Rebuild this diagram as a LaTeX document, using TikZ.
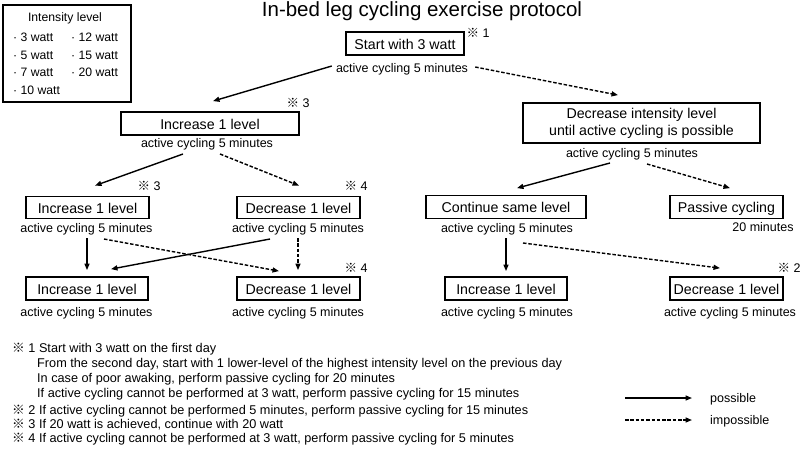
\documentclass[tikz,border=0pt]{standalone}
\usepackage{fontspec}
\setmainfont{Liberation Sans}
\newfontfamily\cjk{Noto Sans CJK JP}
\usetikzlibrary{arrows.meta,calc}
\newcommand\refm{{\cjk ※}}
\newcommand\szbox{\fontsize{14.2}{17}\selectfont}
\newcommand\szsub{\fontsize{12.5}{15}\selectfont}
\newcommand\szfoot{\fontsize{12.7}{15}\selectfont}
\newcommand\sztitle{\fontsize{20.5}{24}\selectfont}
\newcommand\szint{\fontsize{12.2}{15}\selectfont}
\begin{document}
\begin{tikzpicture}[x=1pt,y=-1pt,
  bx/.style={draw, line width=1.8pt, inner sep=0pt, font=\szbox, text height=11.4pt, text depth=0pt},
  bxtwo/.style={draw, line width=1.8pt, inner sep=0pt, font=\szbox, align=center},
  sub/.style={inner sep=0pt, anchor=base, font=\szsub},
  rn/.style={inner sep=0pt, anchor=base, font=\szsub},
  foot/.style={inner sep=0pt, anchor=base west, font=\szfoot},
  intitem/.style={inner sep=0pt, anchor=base west, font=\szint},
  arrok/.style={line width=1.4pt, -{Triangle[length=6.5pt,width=5pt]}},
  arrno/.style={arrok, dash pattern=on 3.5pt off 1.8pt},
]
\path[fill=white] (0,0) rectangle (800,453);
\useasboundingbox (0,0) rectangle (800,453);

% title
\node[font=\sztitle, inner sep=0pt, anchor=base] (title) at (422,16.7) {In-bed leg cycling exercise protocol};

% intensity box
\node[draw, line width=1.8pt, minimum width=128pt, minimum height=97pt, inner sep=0pt] (ibox) at (67,53.5) {};
\node[font=\szint, inner sep=0pt, anchor=base] (ititle) at (65,21.7) {Intensity level};
\node[intitem] (i3) at (13,41.5) {· 3 watt};
\node[intitem] (i5) at (13,59) {· 5 watt};
\node[intitem] (i7) at (13,76.5) {· 7 watt};
\node[intitem] (i10) at (13,94) {· 10 watt};
\node[intitem] (i12) at (71,41.5) {· 12 watt};
\node[intitem] (i15) at (71,59) {· 15 watt};
\node[intitem] (i20) at (71,76.5) {· 20 watt};

% boxes
\node[bx, minimum width=118pt, minimum height=23pt] (start) at (405,43.5) {Start with 3 watt};
\node[bx, minimum width=178pt, minimum height=23pt] (inc1) at (210,123.5) {Increase 1 level};
\node[bxtwo, minimum width=237pt, minimum height=40pt] (decI) at (641.5,123) {Decrease intensity level\\until active cycling is possible};
\node[bx, minimum width=123pt, minimum height=22pt] (inc2) at (87.5,207.5) {Increase 1 level};
\node[bx, minimum width=123pt, minimum height=22pt] (dec2) at (298.5,207.5) {Decrease 1 level};
\node[bx, minimum width=160pt, minimum height=23pt] (cont) at (506,207) {Continue same level};
\node[bx, minimum width=113pt, minimum height=23pt] (pas) at (726.5,207) {Passive cycling};
\node[bx, minimum width=122pt, minimum height=23pt] (inc3) at (87,288.5) {Increase 1 level};
\node[bx, minimum width=123pt, minimum height=23pt] (dec3) at (298.5,288.5) {Decrease 1 level};
\node[bx, minimum width=122pt, minimum height=23pt] (inc4) at (506,288.5) {Increase 1 level};
\node[bx, minimum width=113pt, minimum height=23pt] (dec4) at (726.5,288.5) {Decrease 1 level};

% subtitles
\node[sub] (s0) at (402,72) {active cycling 5 minutes};
\node[sub] (s1) at (207,147) {active cycling 5 minutes};
\node[sub] (sR) at (632,157) {active cycling 5 minutes};
\node[sub] (s2) at (86.5,232) {active cycling 5 minutes};
\node[sub] (s3) at (298,232) {active cycling 5 minutes};
\node[sub] (s4) at (507,232) {active cycling 5 minutes};
\node[sub] (s5) at (763,231.5) {20 minutes};
\node[sub] (s6) at (86.5,316.5) {active cycling 5 minutes};
\node[sub] (s7) at (298,316.5) {active cycling 5 minutes};
\node[sub] (s8) at (507,316.5) {active cycling 5 minutes};
\node[sub] (s9) at (730,316.5) {active cycling 5 minutes};

% reference marks
\node[rn] (r1) at (478,37.5) {\refm\ 1};
\node[rn] (r3a) at (298,107.5) {\refm\ 3};
\node[rn] (r3b) at (149,190.5) {\refm\ 3};
\node[rn] (r4a) at (356,190.5) {\refm\ 4};
\node[rn] (r4b) at (356,272.5) {\refm\ 4};
\node[rn] (r2) at (789,272.5) {\refm\ 2};

% connectors
\draw[arrok] ($(s0.base west)+(-4,-6)$) -- ($(inc1.north)+(3,-10)$);
\draw[arrno] ($(s0.base east)+(7,-5)$) -- ($(decI.north)+(-23.5,-7)$);
\draw[arrok] ($(s1.base)+(-24,7)$) -- ($(inc2.north)+(7.5,-10)$);
\draw[arrno] ($(s1.base)+(13,7)$) -- ($(dec2.north)+(0.5,-10)$);
\draw[arrok] ($(s2.base)+(0.5,6)$) -- ($(inc3.north)+(0,-6)$);
\draw[arrno] ($(s2.base)+(17.5,7)$) -- ($(dec3.north)+(-19.5,-5)$);
\draw[arrok] ($(s3.base)+(-28,7)$) -- ($(inc3.north)+(24,-7)$);
\draw[arrno] ($(s3.base)+(0,6)$) -- ($(dec3.north)+(-0.5,-6)$);
\draw[arrok] ($(sR.base)+(-22,6)$) -- ($(cont.north)+(11,-6.5)$);
\draw[arrno] ($(sR.base)+(15,7)$) -- ($(pas.north)+(3.5,-6.5)$);
\draw[arrok] ($(s4.base)+(-1,6)$) -- ($(inc4.north)+(0,-5)$);
\draw[arrno] ($(s4.base)+(16,11)$) -- ($(dec4.north)+(-6.5,-8)$);

% footnotes
\node[foot] (f1) at (12,352.5) {\refm\ 1 Start with 3 watt on the first day};
\node[foot] (f1b) at (37,367) {From the second day, start with 1 lower-level of the highest intensity level on the previous day};
\node[foot] (f1c) at (37,382) {In case of poor awaking, perform passive cycling for 20 minutes};
\node[foot] (f1d) at (37,397.5) {If active cycling cannot be performed at 3 watt, perform passive cycling for 15 minutes};
\node[foot] (f2) at (12,414) {\refm\ 2 If active cycling cannot be performed 5 minutes, perform passive cycling for 15 minutes};
\node[foot] (f3) at (12,428.3) {\refm\ 3 If 20 watt is achieved, continue with 20 watt};
\node[foot] (f4) at (12,442.5) {\refm\ 4 If active cycling cannot be performed at 3 watt, perform passive cycling for 5 minutes};

% legend
\node[sub, anchor=base west] (lpos) at (710,402) {possible};
\node[sub, anchor=base west] (limp) at (710,424.5) {impossible};
\coordinate (l1a) at (625,398);
\coordinate (l2a) at (625,420);
\draw[arrok] (l1a) -- ($(lpos.base west)+(-18,-4)$);
\draw[arrno] (l2a) -- ($(limp.base west)+(-18,-4.5)$);
\end{tikzpicture}
\end{document}
